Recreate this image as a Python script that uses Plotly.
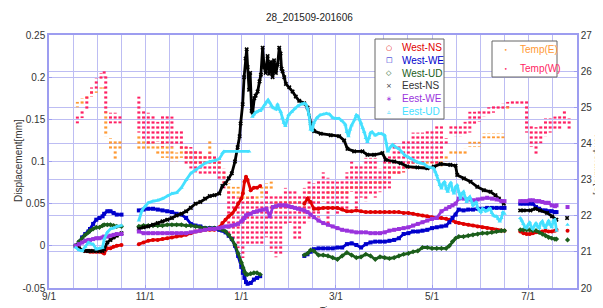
import plotly.graph_objects as go
import pandas as pd

# ---------------------------------------------------------------- data
SEG_A = ['2015-09-18', '2015-09-20', '2015-09-22', '2015-09-24', '2015-09-26', '2015-09-27',
         '2015-09-29', '2015-10-01', '2015-10-03', '2015-10-05', '2015-10-06', '2015-10-08',
         '2015-10-10', '2015-10-12', '2015-10-14', '2015-10-17']
WEST_B = ['2015-10-28', '2015-10-31', '2015-11-03', '2015-11-06', '2015-11-09', '2015-11-12',
          '2015-11-15', '2015-11-18', '2015-11-21', '2015-11-24', '2015-11-27', '2015-11-30',
          '2015-12-03', '2015-12-06', '2015-12-09', '2015-12-12', '2015-12-15', '2015-12-18',
          '2015-12-20', '2015-12-22', '2015-12-24', '2015-12-26', '2015-12-28', '2015-12-30',
          '2016-01-01', '2016-01-02', '2016-01-03', '2016-01-04', '2016-01-05', '2016-01-07',
          '2016-01-09', '2016-01-11', '2016-01-13']
JANFEB = ['2016-01-15', '2016-01-17', '2016-01-19', '2016-01-21', '2016-01-23', '2016-01-25',
          '2016-01-27', '2016-01-29', '2016-01-31', '2016-02-02', '2016-02-04', '2016-02-06',
          '2016-02-08']
SEG_C = ['2016-02-10', '2016-02-12', '2016-02-14', '2016-02-16', '2016-02-19', '2016-02-22',
         '2016-02-25', '2016-02-28', '2016-03-02', '2016-03-05', '2016-03-08', '2016-03-11',
         '2016-03-14', '2016-03-17', '2016-03-20', '2016-03-23', '2016-03-26', '2016-03-29',
         '2016-04-01', '2016-04-04', '2016-04-07', '2016-04-10', '2016-04-13', '2016-04-16',
         '2016-04-19', '2016-04-22', '2016-04-25', '2016-04-28', '2016-05-01', '2016-05-04',
         '2016-05-07', '2016-05-10', '2016-05-12', '2016-05-14', '2016-05-16', '2016-05-18',
         '2016-05-21', '2016-05-24', '2016-05-27', '2016-05-30', '2016-06-02', '2016-06-05',
         '2016-06-08', '2016-06-11', '2016-06-14', '2016-06-16']
SEG_D = ['2016-06-26', '2016-06-28', '2016-06-30', '2016-07-02', '2016-07-04', '2016-07-06',
         '2016-07-08', '2016-07-10', '2016-07-12', '2016-07-14', '2016-07-16', '2016-07-18',
         '2016-07-19']
SEG_E = ['2016-07-26']

# West-NS
WNS_A = [0.0, -0.003, -0.005, -0.006, -0.006, -0.007, -0.007, -0.007, -0.007, -0.008, -0.009,
         -0.003, -0.003, -0.001, 0.000, 0.001]
WNS_B = [0.002, 0.004, 0.006, 0.007, 0.007, 0.008, 0.009, 0.010, 0.011, 0.012, 0.013, 0.015,
         0.017, 0.018, 0.019, 0.019, 0.019, 0.022, 0.027, 0.031, 0.035, 0.038, 0.043, 0.050,
         0.056, 0.062, 0.076, 0.082, 0.078, 0.066, 0.069, 0.069, 0.071]
WNS_C = [0.050, 0.056, 0.052, 0.044, 0.044, 0.045, 0.045, 0.045, 0.045, 0.043,
         0.041, 0.041, 0.042, 0.041, 0.040, 0.040, 0.040, 0.040, 0.040, 0.040,
         0.040, 0.040, 0.039, 0.039, 0.038, 0.037, 0.036, 0.035, 0.034, 0.033,
         0.033, 0.032, 0.031, 0.030, 0.028, 0.027, 0.026, 0.025, 0.024, 0.023,
         0.022, 0.021, 0.020, 0.019, 0.018, 0.018]
WNS_D = [0.017, 0.015, 0.014, 0.014, 0.015, 0.016, 0.016, 0.017, 0.018, 0.017, 0.017, 0.018, 0.019]
WNS_E = [0.018]

# West-WE
WWE_A = [0.0, 0.004, 0.010, 0.014, 0.017, 0.020, 0.026, 0.031, 0.033, 0.035, 0.038, 0.041,
         0.041, 0.039, 0.037, 0.037]
WWE_B = [0.042, 0.043, 0.044, 0.044, 0.043, 0.042, 0.041, 0.040, 0.038, 0.037, 0.033, 0.026,
         0.024, 0.023, 0.021, 0.021, 0.021, 0.019, 0.018, 0.016, 0.012, 0.008, 0.000, -0.012,
         -0.025, -0.032, -0.038, -0.043, -0.045, -0.044, -0.040, -0.038, -0.036]
WWE_C = [-0.012, -0.010, -0.007, -0.004, -0.003, -0.003, -0.003, -0.003, -0.002, -0.002,
         0.002, 0.003, 0.001, -0.002, 0.002, 0.004, 0.005, 0.005, 0.005, 0.006,
         0.007, 0.009, 0.014, 0.015, 0.017, 0.017, 0.018, 0.019, 0.021, 0.022,
         0.023, 0.024, 0.028, 0.033, 0.037, 0.043, 0.042, 0.043, 0.043, 0.044,
         0.044, 0.045, 0.045, 0.045, 0.045, 0.045]
WWE_D = [0.050, 0.050, 0.050, 0.050, 0.050, 0.046, 0.044, 0.042, 0.042, 0.041, 0.041, 0.040, 0.040]

# West-UD
WUD_A = [0.0, 0.005, 0.009, 0.013, 0.016, 0.018, 0.020, 0.022, 0.022, 0.024, 0.025, 0.025,
         0.025, 0.024, 0.023, 0.023]
WUD_B = [0.023, 0.024, 0.024, 0.024, 0.024, 0.024, 0.025, 0.025, 0.025, 0.025, 0.024, 0.024,
         0.023, 0.022, 0.021, 0.021, 0.021, 0.020, 0.019, 0.017, 0.013, 0.008, 0.001, -0.009,
         -0.020, -0.026, -0.031, -0.034, -0.034, -0.033, -0.032, -0.032, -0.034]
WUD_C = [-0.011, -0.009, -0.005, -0.006, -0.011, -0.011, -0.012, -0.014, -0.016, -0.012,
         -0.008, -0.011, -0.014, -0.013, -0.010, -0.012, -0.016, -0.013, -0.014, -0.015,
         -0.014, -0.012, -0.010, -0.009, -0.007, -0.006, -0.002, -0.002, -0.003, -0.003,
         -0.003, -0.003, 0.000, 0.005, 0.009, 0.011, 0.011, 0.012, 0.013, 0.014,
         0.015, 0.015, 0.016, 0.017, 0.018, 0.018]
WUD_D = [0.019, 0.019, 0.019, 0.019, 0.018, 0.018, 0.016, 0.014, 0.012, 0.010, 0.009, 0.008, 0.008]
WUD_E = [0.007]

# East-NS
ENS_A = [0.0, -0.003, -0.005, -0.006, -0.006, -0.006, -0.006, -0.006, -0.006, -0.006, -0.004,
         0.004, 0.007, 0.010, 0.012, 0.015]
ENS_B_DATES = ['2015-10-28', '2015-10-31', '2015-11-03', '2015-11-06', '2015-11-09', '2015-11-12',
               '2015-11-15', '2015-11-18', '2015-11-21', '2015-11-24', '2015-11-27', '2015-11-30',
               '2015-12-03', '2015-12-06', '2015-12-09', '2015-12-12', '2015-12-15', '2015-12-18',
               '2015-12-20', '2015-12-22', '2015-12-24', '2015-12-26', '2015-12-28',
               '2015-12-29 17:00', '2015-12-30 23:00', '2015-12-31 14:00', '2016-01-01 21:00',
               '2016-01-02 19:00', '2016-01-03 18:00', '2016-01-04 10:00', '2016-01-05 01:00',
               '2016-01-05 23:00', '2016-01-06 15:00',
               '2016-01-07 13:00', '2016-01-08 05:00', '2016-01-09 06:00', '2016-01-10 02:00',
               '2016-01-11 09:00', '2016-01-12 14:00', '2016-01-13 11:00', '2016-01-14 13:00',
               '2016-01-15 12:00', '2016-01-16 10:00',
               '2016-01-17 17:00', '2016-01-18 16:00', '2016-01-19 19:00', '2016-01-20 21:00',
               '2016-01-21 19:00', '2016-01-22 23:00', '2016-01-24 01:00', '2016-01-25 02:00',
               '2016-01-25 22:00', '2016-01-26 13:00',
               '2016-01-27 05:00', '2016-01-28 06:00', '2016-01-29 07:00', '2016-01-31 11:00',
               '2016-02-02 13:00', '2016-02-04 14:00', '2016-02-06 18:00', '2016-02-09 23:00',
               '2016-02-12 01:00', '2016-02-14 03:00',
               '2016-02-16 06:00', '2016-02-20 11:00', '2016-02-26 19:00', '2016-03-03 02:00',
               '2016-03-06 06:00', '2016-03-08 09:00', '2016-03-12 14:00', '2016-03-17 21:00',
               '2016-03-21 01:00', '2016-03-25 06:00',
               '2016-03-30 13:00', '2016-04-01 15:00', '2016-04-06 23:00', '2016-04-11 03:00',
               '2016-04-15 09:00', '2016-04-21 17:00', '2016-04-28 01:00', '2016-05-02 06:00',
               '2016-05-06 11:00', '2016-05-12 14:00',
               '2016-05-15 23:00', '2016-05-17 00:00', '2016-05-21 06:00', '2016-05-25 11:00',
               '2016-05-29 17:00', '2016-06-02 22:00', '2016-06-07 03:00', '2016-06-10 07:00',
               '2016-06-12 10:00', '2016-06-15 14:00']
ENS_B = [0.020, 0.022, 0.023, 0.025, 0.027, 0.029, 0.031, 0.033, 0.036, 0.038, 0.041, 0.045,
         0.050, 0.052, 0.056, 0.059, 0.060, 0.062, 0.071, 0.074, 0.080, 0.086, 0.100,
         0.117, 0.130, 0.145, 0.168, 0.200, 0.222, 0.233, 0.212, 0.185, 0.205,
         0.160, 0.158, 0.175, 0.178, 0.183, 0.195, 0.203, 0.235, 0.212, 0.205,
         0.225, 0.204, 0.218, 0.200, 0.220, 0.205, 0.215, 0.235, 0.228, 0.210,
         0.207, 0.200, 0.192, 0.188, 0.183, 0.177, 0.172, 0.169, 0.164, 0.145,
         0.136, 0.133, 0.131, 0.130, 0.125, 0.115, 0.112, 0.112, 0.108, 0.108,
         0.110, 0.102, 0.100, 0.098, 0.094, 0.093, 0.092, 0.094, 0.097, 0.096,
         0.095, 0.084, 0.080, 0.076, 0.070, 0.066, 0.064, 0.060, 0.056, 0.050]
ENS_D_DATES = ['2016-06-25 22:00', '2016-06-28 06:00', '2016-07-02 11:00', '2016-07-05 15:00',
               '2016-07-08 14:00', '2016-07-13 00:00', '2016-07-16 05:00', '2016-07-18 22:00']
ENS_D = [0.042, 0.042, 0.042, 0.044, 0.042, 0.039, 0.035, 0.031]
ENS_E_DATES = ['2016-07-25 17:00']
ENS_E = [0.033]

# East-WE
EWE_A = [0.0, 0.002, 0.004, 0.006, 0.007, 0.007, 0.008, 0.009, 0.009, 0.010, 0.011, 0.011,
         0.012, 0.013, 0.014, 0.014]
EWE_B = [0.017, 0.015, 0.015, 0.015, 0.015, 0.015, 0.015, 0.015, 0.015, 0.015,
         0.015, 0.016, 0.017, 0.018, 0.019, 0.020, 0.020, 0.021, 0.022, 0.023,
         0.023, 0.024, 0.025, 0.026, 0.029, 0.031, 0.033, 0.036, 0.037, 0.038,
         0.040, 0.041, 0.042]
EWE_JF = [0.043, 0.044, 0.035, 0.046, 0.047, 0.048, 0.048, 0.048, 0.047, 0.046, 0.045, 0.044, 0.043]
EWE_C = [0.042, 0.040, 0.037, 0.034, 0.030, 0.027, 0.025, 0.023, 0.021, 0.019,
         0.018, 0.017, 0.016, 0.016, 0.016, 0.015, 0.015, 0.015, 0.016, 0.018,
         0.019, 0.020, 0.021, 0.022, 0.024, 0.026, 0.028, 0.030, 0.032, 0.033,
         0.041, 0.044, 0.046, 0.048, 0.050, 0.056, 0.056, 0.055, 0.054, 0.055,
         0.056, 0.057, 0.056, 0.055, 0.053, 0.053]
EWE_D = [0.053, 0.053, 0.053, 0.054, 0.054, 0.053, 0.053, 0.052, 0.051, 0.051, 0.048, 0.047, 0.048]
EWE_E = [0.046]

# East-UD
EUD_A = [-0.002, -0.005, -0.006, -0.001, 0.004, 0.003, 0.002, -0.004, -0.003, -0.002, 0.008,
         0.016, 0.020, 0.021, 0.023, 0.024]
EUD_B1_DATES = ['2015-10-28', '2015-10-30', '2015-11-01', '2015-11-03', '2015-11-06', '2015-11-09',
                '2015-11-12', '2015-11-15', '2015-11-18', '2015-11-21', '2015-11-24', '2015-11-27',
                '2015-11-30', '2015-12-03', '2015-12-06', '2015-12-09', '2015-12-12', '2015-12-15',
                '2015-12-18', '2015-12-20', '2015-12-21', '2016-01-06']
EUD_B1 = [0.030, 0.042, 0.047, 0.051, 0.053, 0.054, 0.056, 0.059, 0.062, 0.063, 0.069, 0.078,
          0.086, 0.090, 0.094, 0.098, 0.100, 0.101, 0.103, 0.110, 0.112, 0.112]
EUD_B2_DATES = ['2016-01-08', '2016-01-09', '2016-01-10', '2016-01-11', '2016-01-12', '2016-01-13',
                '2016-01-14', '2016-01-15', '2016-01-16', '2016-01-17', '2016-01-18', '2016-01-19',
                '2016-01-20', '2016-01-21', '2016-01-22', '2016-01-23', '2016-01-24', '2016-01-25',
                '2016-01-26', '2016-01-27', '2016-01-28', '2016-01-29', '2016-01-30', '2016-01-31',
                '2016-02-02', '2016-02-04', '2016-02-06', '2016-02-08', '2016-02-10', '2016-02-11',
                '2016-02-12', '2016-02-13', '2016-02-14', '2016-02-15', '2016-02-16', '2016-02-18',
                '2016-02-20', '2016-02-22', '2016-02-24', '2016-02-26', '2016-02-28',
                '2016-03-01', '2016-03-03', '2016-03-05', '2016-03-07', '2016-03-08', '2016-03-09',
                '2016-03-10', '2016-03-11', '2016-03-13', '2016-03-14', '2016-03-15', '2016-03-16',
                '2016-03-17', '2016-03-18', '2016-03-19', '2016-03-20', '2016-03-21', '2016-03-22',
                '2016-03-23', '2016-03-24', '2016-03-26', '2016-03-28', '2016-03-30',
                '2016-04-01', '2016-04-02', '2016-04-03', '2016-04-05', '2016-04-06', '2016-04-08',
                '2016-04-10', '2016-04-12', '2016-04-14', '2016-04-16', '2016-04-18', '2016-04-20',
                '2016-04-22', '2016-04-24', '2016-04-26', '2016-04-28', '2016-04-30',
                '2016-05-02', '2016-05-03', '2016-05-04', '2016-05-05', '2016-05-06', '2016-05-07',
                '2016-05-08', '2016-05-09', '2016-05-10', '2016-05-11', '2016-05-12', '2016-05-13',
                '2016-05-14', '2016-05-15', '2016-05-16', '2016-05-17', '2016-05-18', '2016-05-19',
                '2016-05-20', '2016-05-21', '2016-05-22', '2016-05-23', '2016-05-24', '2016-05-25',
                '2016-05-26', '2016-05-27', '2016-05-28', '2016-05-29', '2016-05-30', '2016-05-31',
                '2016-06-01', '2016-06-02', '2016-06-03', '2016-06-04', '2016-06-05', '2016-06-06',
                '2016-06-07', '2016-06-08', '2016-06-09', '2016-06-10', '2016-06-11', '2016-06-12',
                '2016-06-13', '2016-06-14', '2016-06-15', '2016-06-16']
EUD_B2 = [0.153, 0.156, 0.158, 0.159, 0.160, 0.160, 0.162, 0.165, 0.168, 0.171, 0.173, 0.170,
          0.166, 0.164, 0.163, 0.162, 0.168, 0.162, 0.159, 0.152, 0.146, 0.142, 0.150, 0.155,
          0.159, 0.163, 0.166, 0.168, 0.169, 0.168, 0.163, 0.155, 0.138, 0.137, 0.146, 0.152,
          0.155, 0.156, 0.157, 0.156, 0.152,
          0.151, 0.151, 0.148, 0.144, 0.135, 0.130, 0.138, 0.143, 0.150, 0.155, 0.154, 0.150,
          0.146, 0.140, 0.135, 0.128, 0.123, 0.128, 0.134, 0.135, 0.131, 0.133, 0.133,
          0.131, 0.122, 0.112, 0.118, 0.120, 0.117, 0.115, 0.111, 0.107, 0.105, 0.103, 0.100,
          0.099, 0.098, 0.097, 0.094, 0.093,
          0.092, 0.088, 0.084, 0.078, 0.072, 0.068, 0.074, 0.076, 0.068, 0.064, 0.072, 0.075,
          0.066, 0.062, 0.070, 0.072, 0.064, 0.056, 0.062, 0.064, 0.058, 0.052, 0.056, 0.058,
          0.053, 0.048, 0.050, 0.052, 0.045, 0.042,
          0.040, 0.044, 0.043, 0.041, 0.042, 0.044, 0.044, 0.039, 0.036, 0.035, 0.035, 0.032,
          0.029, 0.033, 0.040, 0.038]
EUD_D_DATES = ['2016-06-26', '2016-06-27', '2016-06-28', '2016-06-29', '2016-06-30', '2016-07-01',
               '2016-07-02', '2016-07-03', '2016-07-04', '2016-07-05', '2016-07-06', '2016-07-07',
               '2016-07-08', '2016-07-09', '2016-07-10', '2016-07-11', '2016-07-12', '2016-07-13',
               '2016-07-14', '2016-07-15', '2016-07-16', '2016-07-17', '2016-07-18', '2016-07-19']
EUD_D = [0.033, 0.030, 0.026, 0.022, 0.021, 0.025, 0.028, 0.022, 0.020, 0.024, 0.027, 0.023,
         0.021, 0.027, 0.029, 0.024, 0.021, 0.026, 0.030, 0.025, 0.022, 0.030, 0.031, 0.018]
EUD_E = [0.025]

# Temperatures (columns of readings: low / high per sample date)
TEMP1_DATES = ['2015-09-19', '2015-09-22', '2015-09-25', '2015-09-28', '2015-10-01', '2015-10-04',
               '2015-10-06', '2015-10-07', '2015-10-10', '2015-10-13', '2015-10-16']
TW1_LO = [24.55, 24.70, 24.90, 25.30, 25.50, 25.75, 25.85, 24.85, 24.55, 24.55, 24.55]
TW1_HI = [24.75, 24.90, 25.30, 25.55, 25.80, 25.95, 26.05, 25.90, 24.85, 24.85, 24.80]
TE1_LO = [25.00, 25.05, 25.20, 25.30, 25.40, 25.45, 25.45, 24.20, 23.85, 23.55, 23.85]
TE1_HI = [25.15, 25.25, 25.35, 25.45, 25.50, 25.55, 25.55, 24.90, 24.15, 24.10, 24.10]

TEMP2_DATES = ['2015-10-28', '2015-10-31', '2015-11-03', '2015-11-06', '2015-11-09', '2015-11-12',
               '2015-11-15', '2015-11-18', '2015-11-21', '2015-11-24', '2015-11-27', '2015-11-30',
               '2015-12-03', '2015-12-06', '2015-12-09', '2015-12-12', '2015-12-15', '2015-12-18',
               '2015-12-21', '2015-12-24', '2015-12-27', '2015-12-30', '2016-01-02', '2016-01-05',
               '2016-01-08', '2016-01-11', '2016-01-14', '2016-01-17', '2016-01-20', '2016-01-23',
               '2016-01-26', '2016-01-29', '2016-02-01', '2016-02-04', '2016-02-07', '2016-02-10',
               '2016-02-13', '2016-02-16', '2016-02-19', '2016-02-22', '2016-02-25', '2016-02-28',
               '2016-03-02', '2016-03-05', '2016-03-08', '2016-03-11', '2016-03-14', '2016-03-17',
               '2016-03-20', '2016-03-23', '2016-03-26', '2016-03-29', '2016-04-01', '2016-04-04',
               '2016-04-07', '2016-04-10', '2016-04-13', '2016-04-16', '2016-04-19', '2016-04-22',
               '2016-04-25', '2016-04-28', '2016-05-01', '2016-05-04', '2016-05-07', '2016-05-10',
               '2016-05-13', '2016-05-16', '2016-05-19', '2016-05-22', '2016-05-25', '2016-05-28',
               '2016-05-31', '2016-06-03', '2016-06-06', '2016-06-09', '2016-06-12', '2016-06-15',
               '2016-06-18', '2016-06-21', '2016-06-24', '2016-06-27', '2016-06-30', '2016-07-03',
               '2016-07-06', '2016-07-09', '2016-07-12', '2016-07-15', '2016-07-18', '2016-07-21',
               '2016-07-24', '2016-07-27']
TW2_LO = [24.30, 24.10, 23.95, 24.00, 24.05, 23.90, 24.00, 23.90, 23.95, 23.80, 23.40, 23.30,
          23.20, 23.15, 23.15, 23.10, 23.10, 23.00, 22.75, 21.40, 21.30, 21.10, 20.83, 21.20,
          21.20, 21.20, 21.20, 21.40, 21.00, 20.85, 20.90, 21.75, 21.80, 21.30, 21.30, 21.75,
          21.85, 21.90, 21.95, 22.40, 21.75, 22.30, 22.00, 22.20, 22.10, 22.66, 22.20, 22.50,
          22.40, 22.55, 22.50, 22.65, 22.70, 22.75, 23.10, 23.13, 23.20, 23.30, 23.30, 23.30,
          23.40, 23.50, 23.45, 23.40, 23.60, 23.95, 24.23, 24.20, 24.20, 24.25, 24.30, 24.50,
          24.60, 24.75, 24.80, 24.85, 24.90, 24.95, 25.00, 25.05, 25.06, 25.06, 24.30, 23.90,
          23.70, 24.00, 24.20, 24.30, 24.40, 24.40, 24.50, 24.40]
TW2_HI = [25.30, 24.90, 24.85, 24.80, 24.60, 24.80, 24.80, 24.75, 24.40, 24.35, 23.96, 23.90,
          23.80, 23.80, 23.70, 23.75, 23.65, 23.50, 23.30, 22.70, 22.60, 22.50, 22.40, 22.50,
          22.55, 22.40, 22.40, 22.70, 22.60, 22.60, 22.60, 22.77, 22.70, 22.70, 22.60, 22.77,
          22.95, 22.90, 23.00, 23.20, 23.05, 23.00, 22.95, 23.00, 23.20, 23.50, 23.40, 23.40,
          23.60, 23.60, 23.60, 23.30, 23.70, 23.65, 24.00, 23.95, 24.10, 24.10, 24.30, 24.30,
          24.30, 24.40, 24.40, 24.50, 24.50, 24.15, 24.50, 24.50, 24.50, 24.60, 24.88, 24.88,
          24.90, 24.95, 25.00, 25.05, 25.05, 25.10, 25.15, 25.20, 25.20, 25.20, 25.20, 24.50,
          24.45, 24.50, 24.70, 24.70, 24.75, 24.80, 24.90, 24.70]
TE2_LO = [23.80, 23.80, 23.85, 23.85, 23.70, 23.60, 23.60, 23.50, 23.50, 23.60, 23.50, 23.45,
          23.40, 23.40, 23.40, 23.50, 23.40, 23.30, 22.90, 22.60, 22.50, 22.50, 22.40, 22.30,
          22.30, 22.30, 22.50, 22.60, 22.70, 22.10, 22.20, 22.30, 22.30, 22.30, 22.30, 22.20,
          22.40, 22.40, 22.40, 22.40, 22.57, 22.60, 22.57, 22.60, 22.60, 22.70, 22.70, 22.70,
          22.75, 22.85, 22.85, 22.85, 22.90, 23.13, 23.13, 23.13, 23.20, 23.30, 23.30, 23.30,
          23.30, 23.30, 23.30, 23.36, 23.36, 23.50, 23.68, 23.68, 23.68, 23.70, 23.90, 23.90,
          23.90, 24.14, 24.14, 24.14, 24.14, 24.14, 24.95, None, None, None, None, None,
          None, None, None, None, None, None, None, None]
TE2_HI = [24.25, 24.10, 24.10, 24.05, 24.00, 24.15, 24.00, 23.90, 23.75, 23.95, 23.90, 23.80,
          23.80, 23.75, 23.70, 24.10, 23.60, 23.60, 23.20, 22.90, 22.80, 22.80, 22.70, 22.60,
          22.60, 22.60, 22.80, 22.90, 22.95, 22.40, 22.40, 22.42, 22.42, 22.42, 22.42, 22.40,
          22.70, 22.52, 22.52, 22.60, 22.76, 22.76, 22.76, 22.76, 22.80, 22.90, 22.90, 22.85,
          22.90, 22.96, 22.96, 23.00, 23.02, 23.30, 23.30, 23.30, 23.40, 23.50, 23.50, 23.50,
          23.50, 23.50, 23.50, 23.60, 23.70, 23.70, 23.82, 23.82, 23.82, 23.85, 24.05, 24.05,
          24.05, 24.28, 24.28, 24.28, 24.28, 24.28, 25.05, None, None, None, None, None,
          None, None, None, None, None, None, None, None]

X_RANGE = ['2015-09-01', '2016-08-01']
MAJOR_TICKS = ['2015-09-01', '2015-11-01', '2016-01-01', '2016-03-01', '2016-05-01', '2016-07-01']
MAJOR_LABELS = ['9/1', '11/1', '1/1', '3/1', '5/1', '7/1']
Y_TICKS = [-0.05, 0, 0.05, 0.1, 0.15, 0.2, 0.25]
Y_LABELS = ['-0.05', '0', '0.05', '0.1', '0.15', '0.2', '0.25']
Y2_TICKS = [20, 21, 22, 23, 24, 25, 26, 27]

# ---------------------------------------------------------------- style
RED, BLUE, GREEN, BLACK = '#e00000', '#0000cc', '#1b5e1b', '#000000'
PURPLE, CYAN, ORANGE, PINK = '#9a33dd', '#44e0ff', '#ff9933', '#ff1f63'
GRID, FRAME = '#bdbdf3', '#9d9df0'
FONT = 'Liberation Sans, Arial, sans-serif'
W, H = 603, 308
L, R, T, B = 41, 569, 27, 280


def join(*segs):
    xs, ys = [], []
    for i, (d, v) in enumerate(segs):
        if i:
            xs.append(d[0])
            ys.append(None)
        xs += list(d)
        ys += list(v)
    return xs, ys


fig = go.Figure()

# temperatures (right axis): columns of short horizontal dashes
DAY = 86400000
for dates, lo, hi, col, nm in [
        (TEMP1_DATES, TE1_LO, TE1_HI, ORANGE, 'Temp(E)'),
        (TEMP2_DATES, TE2_LO, TE2_HI, ORANGE, 'Temp(E)'),
        (TEMP1_DATES, TW1_LO, TW1_HI, PINK, 'Temp(W)'),
        (TEMP2_DATES, TW2_LO, TW2_HI, PINK, 'Temp(W)')]:
    hgt = [(h - l) if (l is not None and h is not None) else None for l, h in zip(lo, hi)]
    fig.add_trace(go.Bar(
        x=dates, y=hgt, base=lo, yaxis='y2', name=nm, width=1.9 * DAY, showlegend=False,
        marker=dict(color='rgba(0,0,0,0)', line=dict(width=0),
                    pattern=dict(shape='-', fgcolor=col, bgcolor='rgba(0,0,0,0)',
                                 fgopacity=1, size=5, solidity=0.45, fillmode='overlay')),
        hoverinfo='skip'))

series = [
    ('West-NS', RED, 'circle', join((SEG_A, WNS_A), (WEST_B, WNS_B), (SEG_C, WNS_C),
                                    (SEG_D, WNS_D), (SEG_E, WNS_E))),
    ('West-WE', BLUE, 'square', join((SEG_A, WWE_A), (WEST_B, WWE_B), (SEG_C, WWE_C),
                                     (SEG_D, WWE_D))),
    ('West-UD', GREEN, 'diamond', join((SEG_A, WUD_A), (WEST_B, WUD_B), (SEG_C, WUD_C),
                                       (SEG_D, WUD_D), (SEG_E, WUD_E))),
    ('Eest-NS', BLACK, 'x', join((SEG_A, ENS_A), (ENS_B_DATES, ENS_B), (ENS_D_DATES, ENS_D),
                                 (ENS_E_DATES, ENS_E))),
    ('Eest-WE', PURPLE, 'square', join((SEG_A, EWE_A),
                                       (WEST_B + JANFEB + SEG_C, EWE_B + EWE_JF + EWE_C),
                                       (SEG_D, EWE_D), (SEG_E, EWE_E))),
    ('Eest-UD', CYAN, 'triangle-up', join((SEG_A, EUD_A), (EUD_B1_DATES, EUD_B1),
                                          (EUD_B2_DATES, EUD_B2), (EUD_D_DATES, EUD_D),
                                          (SEG_E, EUD_E))),
]
for name, col, sym, (xs, ys) in series:
    fig.add_trace(go.Scatter(x=xs, y=ys, name=name, mode='lines+markers', yaxis='y',
                             line=dict(color=col, width=2.8),
                             marker=dict(color=col, size=4, symbol=sym),
                             connectgaps=False, showlegend=False, hoverinfo='skip'))


def px_x(px):
    return (px - L) / (R - L)


def px_y(py):
    return (B - py) / (B - T)


ann = []
shapes = []
ann.append(dict(text='28_201509-201606', x=px_x(301), y=px_y(10), xref='paper', yref='paper',
                showarrow=False, font=dict(size=10, color='#222'), xanchor='center', yanchor='middle'))
ann.append(dict(text='Displacement[mm]', x=px_x(10), y=px_y(153), xref='paper', yref='paper',
                showarrow=False, textangle=-90, font=dict(size=10, color='#333'),
                xanchor='center', yanchor='middle'))
ann.append(dict(text='Temperature[C]', x=px_x(590), y=px_y(156), xref='paper', yref='paper',
                showarrow=False, textangle=90, font=dict(size=9, color='#333'),
                xanchor='center', yanchor='middle', borderpad=0))
ann.append(dict(text='Time', x=px_x(322), y=px_y(307.5), xref='paper', yref='paper',
                showarrow=False, font=dict(size=9, color='#333'), xanchor='center', yanchor='bottom',
                borderpad=0))

# legend 1 (displacement)
shapes.append(dict(type='rect', xref='paper', yref='paper', x0=px_x(367), x1=px_x(436),
                   y0=px_y(111), y1=px_y(31), line=dict(color='#666', width=1), fillcolor='white',
                   layer='above'))
leg1 = [('West-NS', RED, '○'), ('West-WE', BLUE, '□'), ('West-UD', GREEN, '◇'),
        ('Eest-NS', '#333', '×'), ('Eest-WE', PURPLE, '∗'), ('Eest-UD', CYAN, '▵')]
for i, (txt, col, g) in enumerate(leg1):
    py = 39.5 + 12.8 * i
    ann.append(dict(text=g, x=px_x(381), y=px_y(py), xref='paper', yref='paper', showarrow=False,
                    font=dict(size=7, color=col, family='DejaVu Sans'), xanchor='center', yanchor='middle'))
    ann.append(dict(text=txt, x=px_x(392), y=px_y(py), xref='paper', yref='paper', showarrow=False,
                    font=dict(size=10, color=col), xanchor='left', yanchor='middle'))

# legend 2 (temperature)
shapes.append(dict(type='rect', xref='paper', yref='paper', x0=px_x(484), x1=px_x(549),
                   y0=px_y(69), y1=px_y(33), line=dict(color='#666', width=1), fillcolor='white',
                   layer='above'))
for i, (txt, col) in enumerate([('Temp(E)', ORANGE), ('Temp(W)', PINK)]):
    py = 41.3 + 19 * i
    ann.append(dict(text='•', x=px_x(498), y=px_y(py), xref='paper', yref='paper', showarrow=False,
                    font=dict(size=6, color=col, family='DejaVu Sans'), xanchor='center', yanchor='middle'))
    ann.append(dict(text=txt, x=px_x(510), y=px_y(py), xref='paper', yref='paper', showarrow=False,
                    font=dict(size=10, color=col), xanchor='left', yanchor='middle'))

# minor (quarter) grid positions between major ticks
mj = pd.to_datetime(MAJOR_TICKS + ['2016-08-31'])
minor = []
for a, b in zip(mj[:-1], mj[1:]):
    step = (b - a) / 4
    for k in (1, 2, 3):
        t = a + step * k
        if t < pd.Timestamp(X_RANGE[1]):
            minor.append(t.strftime('%Y-%m-%d %H:%M'))

tickfont = dict(size=10, color='#333', family=FONT)
fig.update_layout(
    width=W, height=H, margin=dict(l=L, r=W - R, t=T, b=H - B, pad=0),
    paper_bgcolor='white', plot_bgcolor='white', font=dict(family=FONT),
    barmode='overlay', showlegend=False,
    xaxis=dict(type='date', range=X_RANGE, tickmode='array', tickvals=MAJOR_TICKS,
               ticktext=MAJOR_LABELS, showgrid=True, gridcolor=GRID, gridwidth=1,
               minor=dict(tickmode='array', tickvals=minor, showgrid=True, gridcolor=GRID,
                          gridwidth=1, ticks=''),
               showline=True, linecolor=FRAME, linewidth=1.5, mirror=True, ticks='inside',
               ticklen=3, tickcolor=FRAME, tickfont=tickfont, zeroline=False,
               ticklabelstandoff=-2),
    yaxis=dict(range=[-0.05, 0.25], tickmode='array', tickvals=Y_TICKS, ticktext=Y_LABELS,
               showgrid=True, gridcolor=GRID, gridwidth=1, zeroline=False, showline=True,
               linecolor=FRAME, linewidth=1.5, ticks='inside', ticklen=3, tickcolor=FRAME,
               tickfont=tickfont, overlaying='y2', side='left'),
    yaxis2=dict(range=[20, 27], tickmode='array', tickvals=Y2_TICKS, showgrid=True,
                gridcolor=GRID, gridwidth=1, zeroline=False, showline=True, linecolor=FRAME,
                linewidth=1.5, ticks='inside', ticklen=3, tickcolor=FRAME, tickfont=tickfont,
                side='right'),
    annotations=ann, shapes=shapes,
)

fig.write_html('out.html')
